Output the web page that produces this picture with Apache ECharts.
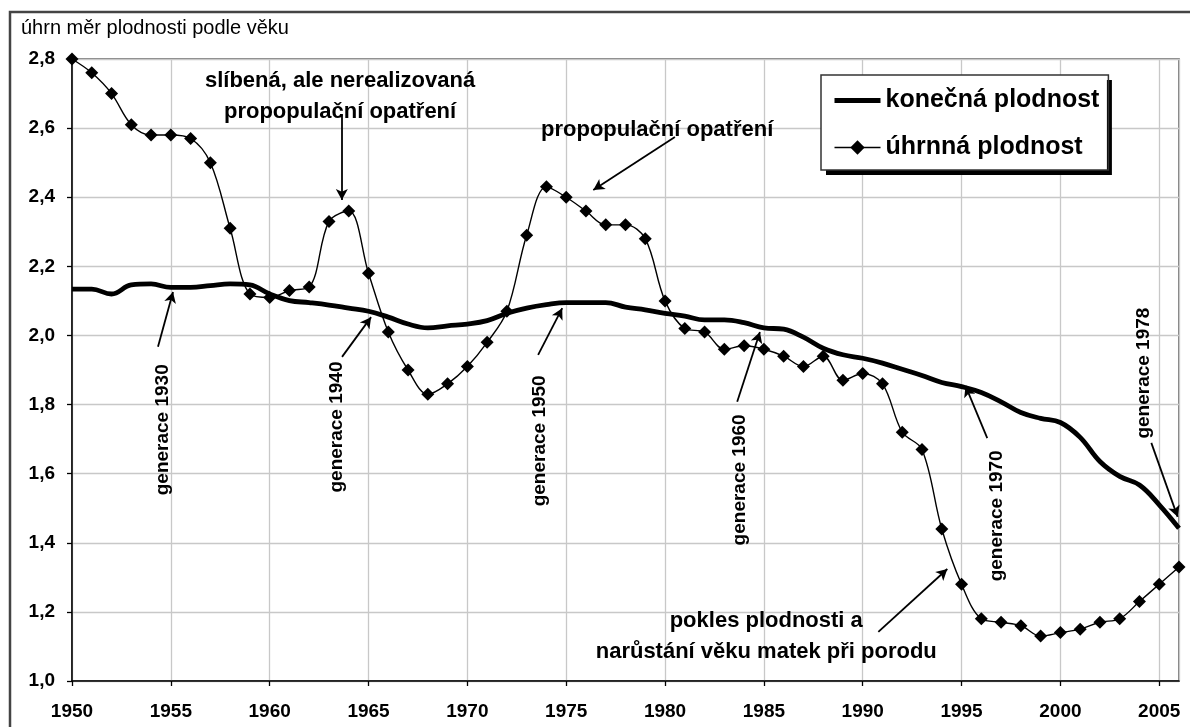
<!DOCTYPE html>
<html>
<head>
<meta charset="utf-8">
<script src="https://cdn.jsdelivr.net/npm/echarts@6/dist/echarts.min.js"></script>
<style>
html, body { margin: 0; padding: 0; background: #fff; }
#chart { width: 1190px; height: 727px; }
</style>
</head>
<body>
<div id="chart"></div>
<script>
// roky (osa x)
var years = [1950, 1951, 1952, 1953, 1954, 1955, 1956, 1957, 1958, 1959,
  1960, 1961, 1962, 1963, 1964, 1965, 1966, 1967, 1968, 1969,
  1970, 1971, 1972, 1973, 1974, 1975, 1976, 1977, 1978, 1979,
  1980, 1981, 1982, 1983, 1984, 1985, 1986, 1987, 1988, 1989,
  1990, 1991, 1992, 1993, 1994, 1995, 1996, 1997, 1998, 1999,
  2000, 2001, 2002, 2003, 2004, 2005, 2006];

// konečná plodnost (generace posunuté na osu let)
var konecna = [2.134, 2.134, 2.12, 2.146, 2.149, 2.139, 2.139, 2.144, 2.149, 2.146,
  2.12, 2.101, 2.095, 2.088, 2.079, 2.07, 2.053, 2.033, 2.022, 2.028,
  2.033, 2.043, 2.064, 2.079, 2.089, 2.095, 2.095, 2.095, 2.082, 2.074,
  2.064, 2.056, 2.045, 2.045, 2.037, 2.022, 2.018, 1.995, 1.963, 1.944,
  1.934, 1.92, 1.902, 1.884, 1.864, 1.852, 1.835, 1.808, 1.777, 1.76,
  1.748, 1.705, 1.635, 1.592, 1.567, 1.51, 1.442];

// úhrnná plodnost
var uhrnna = [2.80, 2.76, 2.70, 2.61, 2.58, 2.58, 2.57, 2.50, 2.31, 2.12,
  2.11, 2.13, 2.14, 2.33, 2.36, 2.18, 2.01, 1.90, 1.83, 1.86,
  1.91, 1.98, 2.07, 2.29, 2.43, 2.40, 2.36, 2.32, 2.32, 2.28,
  2.10, 2.02, 2.01, 1.96, 1.97, 1.96, 1.94, 1.91, 1.94, 1.87,
  1.89, 1.86, 1.72, 1.67, 1.44, 1.28, 1.18, 1.17, 1.16, 1.13,
  1.14, 1.15, 1.17, 1.18, 1.23, 1.28, 1.33];

// popisky v grafu: [rok, hodnota, text, otočení]
var notes = [
  [1963.56, 2.693, 'slíbená, ale nerealizovaná\npropopulační opatření', 0],
  [1979.6, 2.595, 'propopulační opatření', 0],
  [1985.12, 1.128, 'pokles plodnosti a\nnarůstání věku matek při porodu', 0],
  [1954.6, 1.727, 'generace 1930', 90],
  [1963.41, 1.735, 'generace 1940', 90],
  [1973.68, 1.695, 'generace 1950', 90],
  [1983.8, 1.582, 'generace 1960', 90],
  [1996.76, 1.478, 'generace 1970', 90],
  [2004.2, 1.891, 'generace 1978', 90]
];

// šipky: [rok od, hodnota od, rok do, hodnota do]
var arrows = [
  [1963.65, 2.638, 1963.65, 2.392],
  [1980.5, 2.574, 1976.37, 2.421],
  [1990.79, 1.142, 1994.28, 1.324],
  [1954.35, 1.967, 1955.11, 2.126],
  [1963.66, 1.938, 1965.13, 2.053],
  [1973.58, 1.944, 1974.8, 2.079],
  [1983.65, 1.808, 1984.8, 2.01],
  [1996.3, 1.703, 1995.2, 1.854],
  [2004.6, 1.689, 2005.93, 1.475]
];

var font = '"Liberation Sans", Arial, sans-serif';
var clear = 'rgba(0,0,0,0)';

function pairs(vals) {
  return years.map(function (y, i) { return [y, vals[i]]; });
}

var chart = echarts.init(document.getElementById('chart'), null, { renderer: 'canvas' });

// dvě legendy přes sebe: spodní (neviditelný obsah) kreslí stín, horní rámeček a položky
function makeLegend(withShadow) {
  var l = {
    orient: 'vertical',
    left: 821,
    top: 75,
    itemWidth: 46,
    itemHeight: 18,
    itemGap: 22,
    padding: [13, 9, 10, 11],
    textStyle: { fontFamily: font, fontSize: 25, fontWeight: 'bold', color: '#000' },
    selectedMode: false
  };
  if (withShadow) {
    l.data = [
      { name: 'konečná plodnost', itemStyle: { opacity: 0 }, lineStyle: { opacity: 0 }, textStyle: { color: clear } },
      { name: 'úhrnná plodnost', itemStyle: { opacity: 0 }, lineStyle: { opacity: 0 }, textStyle: { color: clear } }
    ];
    l.backgroundColor = '#fff';
    l.borderWidth = 0;
    l.shadowColor = '#000';
    l.shadowBlur = 0;
    l.shadowOffsetX = 5;
    l.shadowOffsetY = 5;
    l.z = 5;
  } else {
    l.data = [
      { name: 'konečná plodnost', itemStyle: { opacity: 0 }, lineStyle: { width: 5 } },
      { name: 'úhrnná plodnost', lineStyle: { width: 1.4 } }
    ];
    l.backgroundColor = 'transparent';
    l.borderColor = '#333';
    l.borderWidth = 1.5;
    l.z = 6;
  }
  return l;
}

var option = {
  animation: false,
  backgroundColor: '#fff',
  textStyle: { fontFamily: font, color: '#000' },
  title: {
    text: 'úhrn měr plodnosti podle věku',
    left: 21,
    top: 18,
    padding: 0,
    textStyle: { fontFamily: font, fontSize: 20, fontWeight: 'normal', color: '#000' }
  },
  graphic: [{
    type: 'rect',
    shape: { x: 10, y: 12, width: 1200, height: 800 },
    style: { fill: 'none', stroke: '#444', lineWidth: 2.5 },
    silent: true,
    z: -10
  }],
  grid: {
    left: 72, top: 59, right: 11, bottom: 46,
    show: true, borderColor: '#555', borderWidth: 1.5
  },
  legend: [makeLegend(true), makeLegend(false)],
  xAxis: {
    type: 'value',
    min: 1950,
    max: 2006,
    interval: 5,
    axisLine: { lineStyle: { color: '#000', width: 1.5 } },
    axisTick: { show: true, length: 5, lineStyle: { color: '#000', width: 1.3 } },
    axisLabel: {
      margin: 21, showMaxLabel: false,
      fontFamily: font, fontSize: 19, fontWeight: 'bold', color: '#000',
      formatter: function (v) { return String(v); }
    },
    splitLine: { show: true, lineStyle: { color: '#c8c8c8', width: 1.3 } }
  },
  yAxis: {
    type: 'value',
    min: 1.0,
    max: 2.8,
    interval: 0.2,
    axisLine: { show: true, lineStyle: { color: '#000', width: 1.5 } },
    axisTick: { show: true, length: 5, lineStyle: { color: '#000', width: 1.3 } },
    axisLabel: {
      margin: 17,
      fontFamily: font, fontSize: 19, fontWeight: 'bold', color: '#000',
      formatter: function (v) { return v.toFixed(1).replace('.', ','); }
    },
    splitLine: { show: true, lineStyle: { color: '#c8c8c8', width: 1.3 } }
  },
  series: [
    {
      name: 'konečná plodnost',
      type: 'line',
      data: pairs(konecna),
      smooth: 0.4,
      symbol: 'none',
      lineStyle: { color: '#000', width: 4.8 },
      itemStyle: { color: '#000' },
      z: 2
    },
    {
      name: 'úhrnná plodnost',
      type: 'line',
      data: pairs(uhrnna),
      smooth: 0.35,
      symbol: 'diamond',
      symbolSize: 13,
      lineStyle: { color: '#000', width: 1.4 },
      itemStyle: { color: '#000' },
      z: 3,
      markLine: {
        silent: true,
        symbol: ['none', 'arrow'],
        symbolSize: [9, 11],
        label: { show: false },
        lineStyle: { color: '#000', width: 1.8, type: 'solid' },
        emphasis: { disabled: true },
        data: arrows.map(function (a) {
          return [{ coord: [a[0], a[1]] }, { coord: [a[2], a[3]] }];
        })
      },
      markPoint: {
        silent: true,
        symbol: 'circle',
        symbolSize: 0,
        data: notes.map(function (n) {
          var vertical = n[3] === 90;
          return {
            coord: [n[0], n[1]],
            label: {
              show: true,
              position: 'inside',
              formatter: n[2],
              rotate: n[3],
              align: 'center',
              verticalAlign: 'middle',
              fontFamily: font,
              fontSize: vertical ? 19 : 22,
              lineHeight: 31,
              fontWeight: 'bold',
              color: '#000'
            }
          };
        })
      }
    }
  ]
};

chart.setOption(option);
window.addEventListener('resize', chart.resize);
</script>
</body>
</html>
